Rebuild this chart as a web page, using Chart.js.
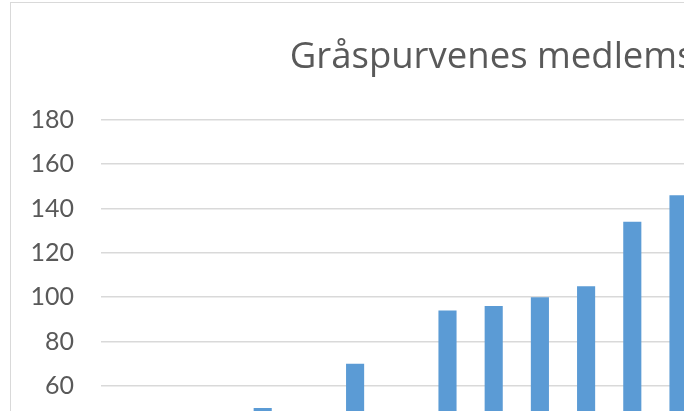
<!DOCTYPE html>
<html>
<head>
<meta charset="utf-8">
<script src="https://cdn.jsdelivr.net/npm/chart.js@4/dist/chart.umd.min.js"></script>
<style>
  html, body { margin: 0; padding: 0; background: #fff; overflow: hidden; width: 684px; height: 411px; }
  #box { position: absolute; left: 10px; top: 2px; width: 1018px; height: 580px; border: 1px solid #d9d9d9; background: #fff; }
  #chart { display: block; }
</style>
</head>
<body>
<div id="box"><canvas id="chart" width="1018" height="580"></canvas></div>
<script>
// --- Data ---
const years = ["2004", "2005", "2006", "2007", "2008", "2009", "2010", "2011", "2012", "2013",
               "2014", "2015", "2016", "2017", "2018", "2019", "2020", "2021", "2022", "2023"];
const members = [12, 22, 35, 50, null, 70, null, 94, 96, 100,
                 105, 134, 146, 150, 158, 162, 165, 170, 172, 175];
const yTicks = [0, 20, 40, 60, 80, 100, 120, 140, 160, 180];
const title = "Gråspurvenes medlemstall";

const grey = "#595959";

new Chart(document.getElementById("chart"), {
  type: "bar",
  data: {
    labels: years,
    datasets: [{
      data: members,
      backgroundColor: "#5b9bd5",
      barPercentage: 0.8,
      categoryPercentage: 0.49
    }]
  },
  options: {
    responsive: false,
    animation: false,
    layout: { padding: { left: 0, right: 4, top: 14, bottom: 20 } },
    plugins: {
      legend: { display: false },
      tooltip: { enabled: false },
      title: {
        display: true,
        text: title,
        color: grey,
        font: { family: "Open Sans", size: 36.5, weight: "normal" },
        padding: { top: 19, bottom: 40 }
      }
    },
    scales: {
      x: {
        grid: { display: false },
        border: { color: "#d9d9d9" },
        ticks: { color: grey, font: { family: "Lato", size: 22 } },
        afterFit: s => { s.height = 44; }
      },
      y: {
        min: 0,
        max: 180,
        afterBuildTicks: s => { s.ticks = yTicks.map(v => ({ value: v })); },
        grid: { color: "#d9d9d9", lineWidth: 1.5, drawTicks: false },
        border: { display: false },
        ticks: { color: grey, padding: 27, font: { family: "Lato", size: 25 } },
        afterFit: s => { s.width = 90; }
      }
    }
  }
});
</script>
</body>
</html>
